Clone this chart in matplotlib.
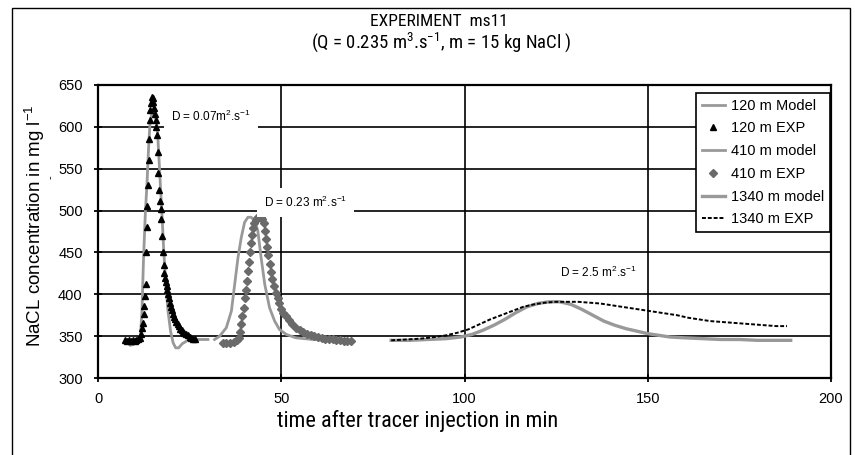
import matplotlib
matplotlib.use("Agg")
import matplotlib.pyplot as plt
from matplotlib import font_manager as fm
from matplotlib.patches import Rectangle

# ---------------- data ----------------
t120_exp = [7.5, 8.0, 8.5, 9.0, 9.5, 10.0, 10.5, 11.0, 11.5, 11.8, 12.1, 12.3, 12.5, 12.6, 12.8,
            13.0, 13.2, 13.3, 13.5, 13.6, 13.8, 13.9, 14.1, 14.3, 14.5, 14.7, 14.9, 15.1, 15.3,
            15.5, 15.7, 15.9, 16.1, 16.3, 16.5, 16.7, 16.9, 17.1, 17.3, 17.5, 17.7, 17.9, 18.1,
            18.3, 18.5, 18.7, 18.9, 19.1, 19.3, 19.6, 19.9, 20.2, 20.5, 20.8, 21.1, 21.4, 21.7,
            22.0, 22.4, 22.8, 23.2, 23.6, 24.0, 24.5, 25.0, 25.5, 26.0, 26.5]
c120_exp = [345, 344, 345, 344, 345, 344, 345, 346, 348, 352, 360, 366, 376, 386, 398,
            412, 450, 480, 505, 530, 560, 585, 608, 620, 628, 636, 634, 630, 622,
            615, 608, 600, 590, 570, 545, 525, 512, 502, 490, 470, 450, 435, 425,
            420, 415, 410, 405, 400, 396, 390, 385, 381, 377, 373, 370, 367, 364,
            362, 359, 357, 355, 354, 352, 351, 349, 348, 346, 346]

t120_mod = [8.0, 8.8, 9.6, 10.5, 11.2, 11.6, 12.0, 12.4, 12.9, 13.4, 13.8, 14.2, 14.7, 15.3,
            15.9, 16.3, 16.6, 17.0, 17.5, 17.9, 18.5, 19.1, 19.8, 20.5, 21.2, 22.0, 23.0,
            24.5, 27.0, 30.0]
c120_mod = [344, 339, 340, 344, 346, 352, 380, 440, 495, 535, 575, 605, 616, 617,
            608, 590, 565, 532, 492, 455, 412, 380, 356, 342, 336, 336, 341,
            345, 346, 346]

t410_mod = [31.8, 33.2, 35.0, 36.4, 37.3, 38.2, 39.1, 40.0, 40.9, 41.8, 42.7, 43.6, 44.5,
            45.5, 46.8, 48.2, 49.5, 51.4, 54.0, 58.6, 63.0, 68.5]
c410_mod = [346, 350, 360, 380, 412, 444, 468, 486, 492, 492, 488, 476, 444,
            412, 384, 368, 358, 352, 348, 346, 345, 345]

t410_exp = [34, 35, 36, 37, 37.8, 38.4, 38.8, 39.1, 39.4, 39.7, 40.0, 40.3, 40.6, 40.9, 41.2,
            41.5, 41.8, 42.1, 42.4, 42.7, 43.0, 43.3, 43.6, 44.0, 44.4, 44.8, 45.2, 45.5,
            45.8, 46.1, 46.4, 46.8, 47.2, 47.6, 48.0, 48.5, 49.0, 49.5, 50.0, 50.6, 51.2,
            52, 53, 54, 55, 56, 57, 58, 59, 60, 61, 62, 63, 64, 65, 66, 67, 68, 69]
c410_exp = [342, 342, 342, 343, 345, 348, 355, 365, 374, 384, 395, 405, 416, 428, 438,
            450, 461, 471, 479, 485, 489, 491, 492, 492, 492, 490, 485, 476,
            466, 456, 447, 436, 427, 418, 410, 402, 395, 389, 383, 378, 374,
            369, 364, 360, 357, 355, 353, 351, 350, 349, 348, 347, 346, 346, 345, 345, 344, 344, 344]

t1340_mod = [80, 85, 90, 95, 99, 102, 105, 108, 111, 114, 117, 120, 123, 126, 129, 132, 135,
             138, 141, 144, 147, 150, 153, 156, 160, 165, 170, 175, 180, 185, 189]
c1340_mod = [345, 345, 346, 347, 349, 352, 357, 363, 370, 378, 385, 389, 391, 391, 388, 382, 375,
             368, 363, 359, 356, 353, 351, 349, 348, 347, 346, 346, 345, 345, 345]

t1340_exp = [80, 84, 88, 92, 95, 98, 101, 104, 107, 110, 113, 116, 119, 122, 125, 128, 131,
             134, 137, 140, 143, 146, 149, 152, 155, 158, 161, 164, 167, 170, 173, 176, 179,
             182, 185, 188]
c1340_exp = [345, 346, 347, 349, 351, 354, 358, 364, 370, 375, 380, 385, 388, 390, 391, 391, 391,
             390, 389, 387, 385, 383, 381, 379, 377, 375, 372, 370, 368, 367, 366, 365, 364,
             363, 362, 362]

legend_labels = ["120 m Model", "120 m EXP", "410 m model", "410 m EXP", "1340 m model", "1340 m EXP"]
annotations = [(20.0, 612, r"D = 0.07m$^{2}$.s$^{-1}$"),
               (45.3, 510, r"D = 0.23 m$^{2}$.s$^{-1}$"),
               (126.0, 426, r"D = 2.5 m$^{2}$.s$^{-1}$")]
x_ticks = [0, 50, 100, 150, 200]
y_ticks = [300, 350, 400, 450, 500, 550, 600, 650]

# ---------------- fonts ----------------
def pick(names):
    for n in names:
        try:
            fm.findfont(fm.FontProperties(family=n), fallback_to_default=False)
            return n
        except Exception:
            pass
    return "DejaVu Sans"

ARIAL = pick(["Liberation Sans", "Arial", "DejaVu Sans"])
NARROW = pick(["Liberation Sans Narrow", "DejaVu Sans Condensed", "Roboto Condensed", "Open Sans"])
plt.rcParams["font.family"] = [ARIAL, "DejaVu Sans"]
plt.rcParams["mathtext.default"] = "regular"

W, H = 855, 455
fig = plt.figure(figsize=(W / 100, H / 100), dpi=100)
ax = fig.add_axes([98 / W, 1 - 378 / H, (831 - 98) / W, (378 - 85) / H])

gray_m = "#999999"
ax.plot(t120_mod, c120_mod, color=gray_m, lw=2.0, label=legend_labels[0], zorder=3)
ax.plot(t120_exp, c120_exp, ls="none", marker="^", ms=5, color="black", label=legend_labels[1], zorder=4)
ax.plot(t410_mod, c410_mod, color=gray_m, lw=2.0, label=legend_labels[2], zorder=3)
ax.plot(t410_exp, c410_exp, ls="none", marker="D", ms=3.8, color="#6a6a6a", label=legend_labels[3], zorder=4)
ax.plot(t1340_mod, c1340_mod, color=gray_m, lw=2.4, label=legend_labels[4], zorder=3)
ax.plot(t1340_exp, c1340_exp, color="black", lw=1.4, ls=(0, (2, 1)), label=legend_labels[5], zorder=4)

ax.set_xlim(0, 200)
ax.set_ylim(300, 650)
ax.set_xticks(x_ticks)
ax.set_yticks(y_ticks)
ax.grid(True, color="black", lw=1.2)
ax.set_axisbelow(True)
for s in ax.spines.values():
    s.set_linewidth(1.6)
    s.set_color("black")
ax.tick_params(direction="inout", length=6, width=1.3, labelsize=10.5, colors="black")
ax.tick_params(axis="y", pad=8)
ax.tick_params(axis="x", pad=7)

for tx, ty, s in annotations:
    ax.text(tx, ty, s, fontsize=8.5, ha="left", va="center", zorder=5,
            bbox=dict(facecolor="white", edgecolor="none", pad=5))

leg = ax.legend(loc="upper right", bbox_to_anchor=(0.9986, 0.973), fontsize=10.5,
                frameon=True, fancybox=False, edgecolor="black", framealpha=1,
                borderaxespad=0, labelspacing=0.6, handlelength=1.6, handletextpad=0.4,
                borderpad=0.4, numpoints=1)
leg.get_frame().set_linewidth(1.2)
leg.set_zorder(10)

# titles and labels
fig.text(439 / W, 1 - 22 / H, "EXPERIMENT  ms11", ha="center", va="center",
         fontsize=12.5, family=[NARROW, "DejaVu Sans"])
fig.text(441 / W, 1 - 42 / H, r"(Q = 0.235 m$^{3}$.s$^{-1}$, m = 15 kg NaCl )", ha="center",
         va="center", fontsize=13.5, family=[NARROW, "DejaVu Sans"])
fig.text(418 / W, 1 - 421 / H, "time after tracer injection in min", ha="center", va="center",
         fontsize=16, family=[NARROW, "DejaVu Sans"])
fig.text(35 / W, 1 - 226 / H, r"NaCL concentration in mg l$^{-1}$", ha="center", va="center",
         rotation=90, fontsize=13.5)
fig.text(51 / W, 1 - 177 / H, "-", ha="center", va="center", rotation=90, fontsize=8)

# outer frame
fig.patches.append(Rectangle((12 / W, -0.05), (850 - 12) / W, 1.05 - 8 / H,
                             transform=fig.transFigure, fill=False, edgecolor="black",
                             lw=1.0, clip_on=False))

fig.savefig("out.png", dpi=100)
